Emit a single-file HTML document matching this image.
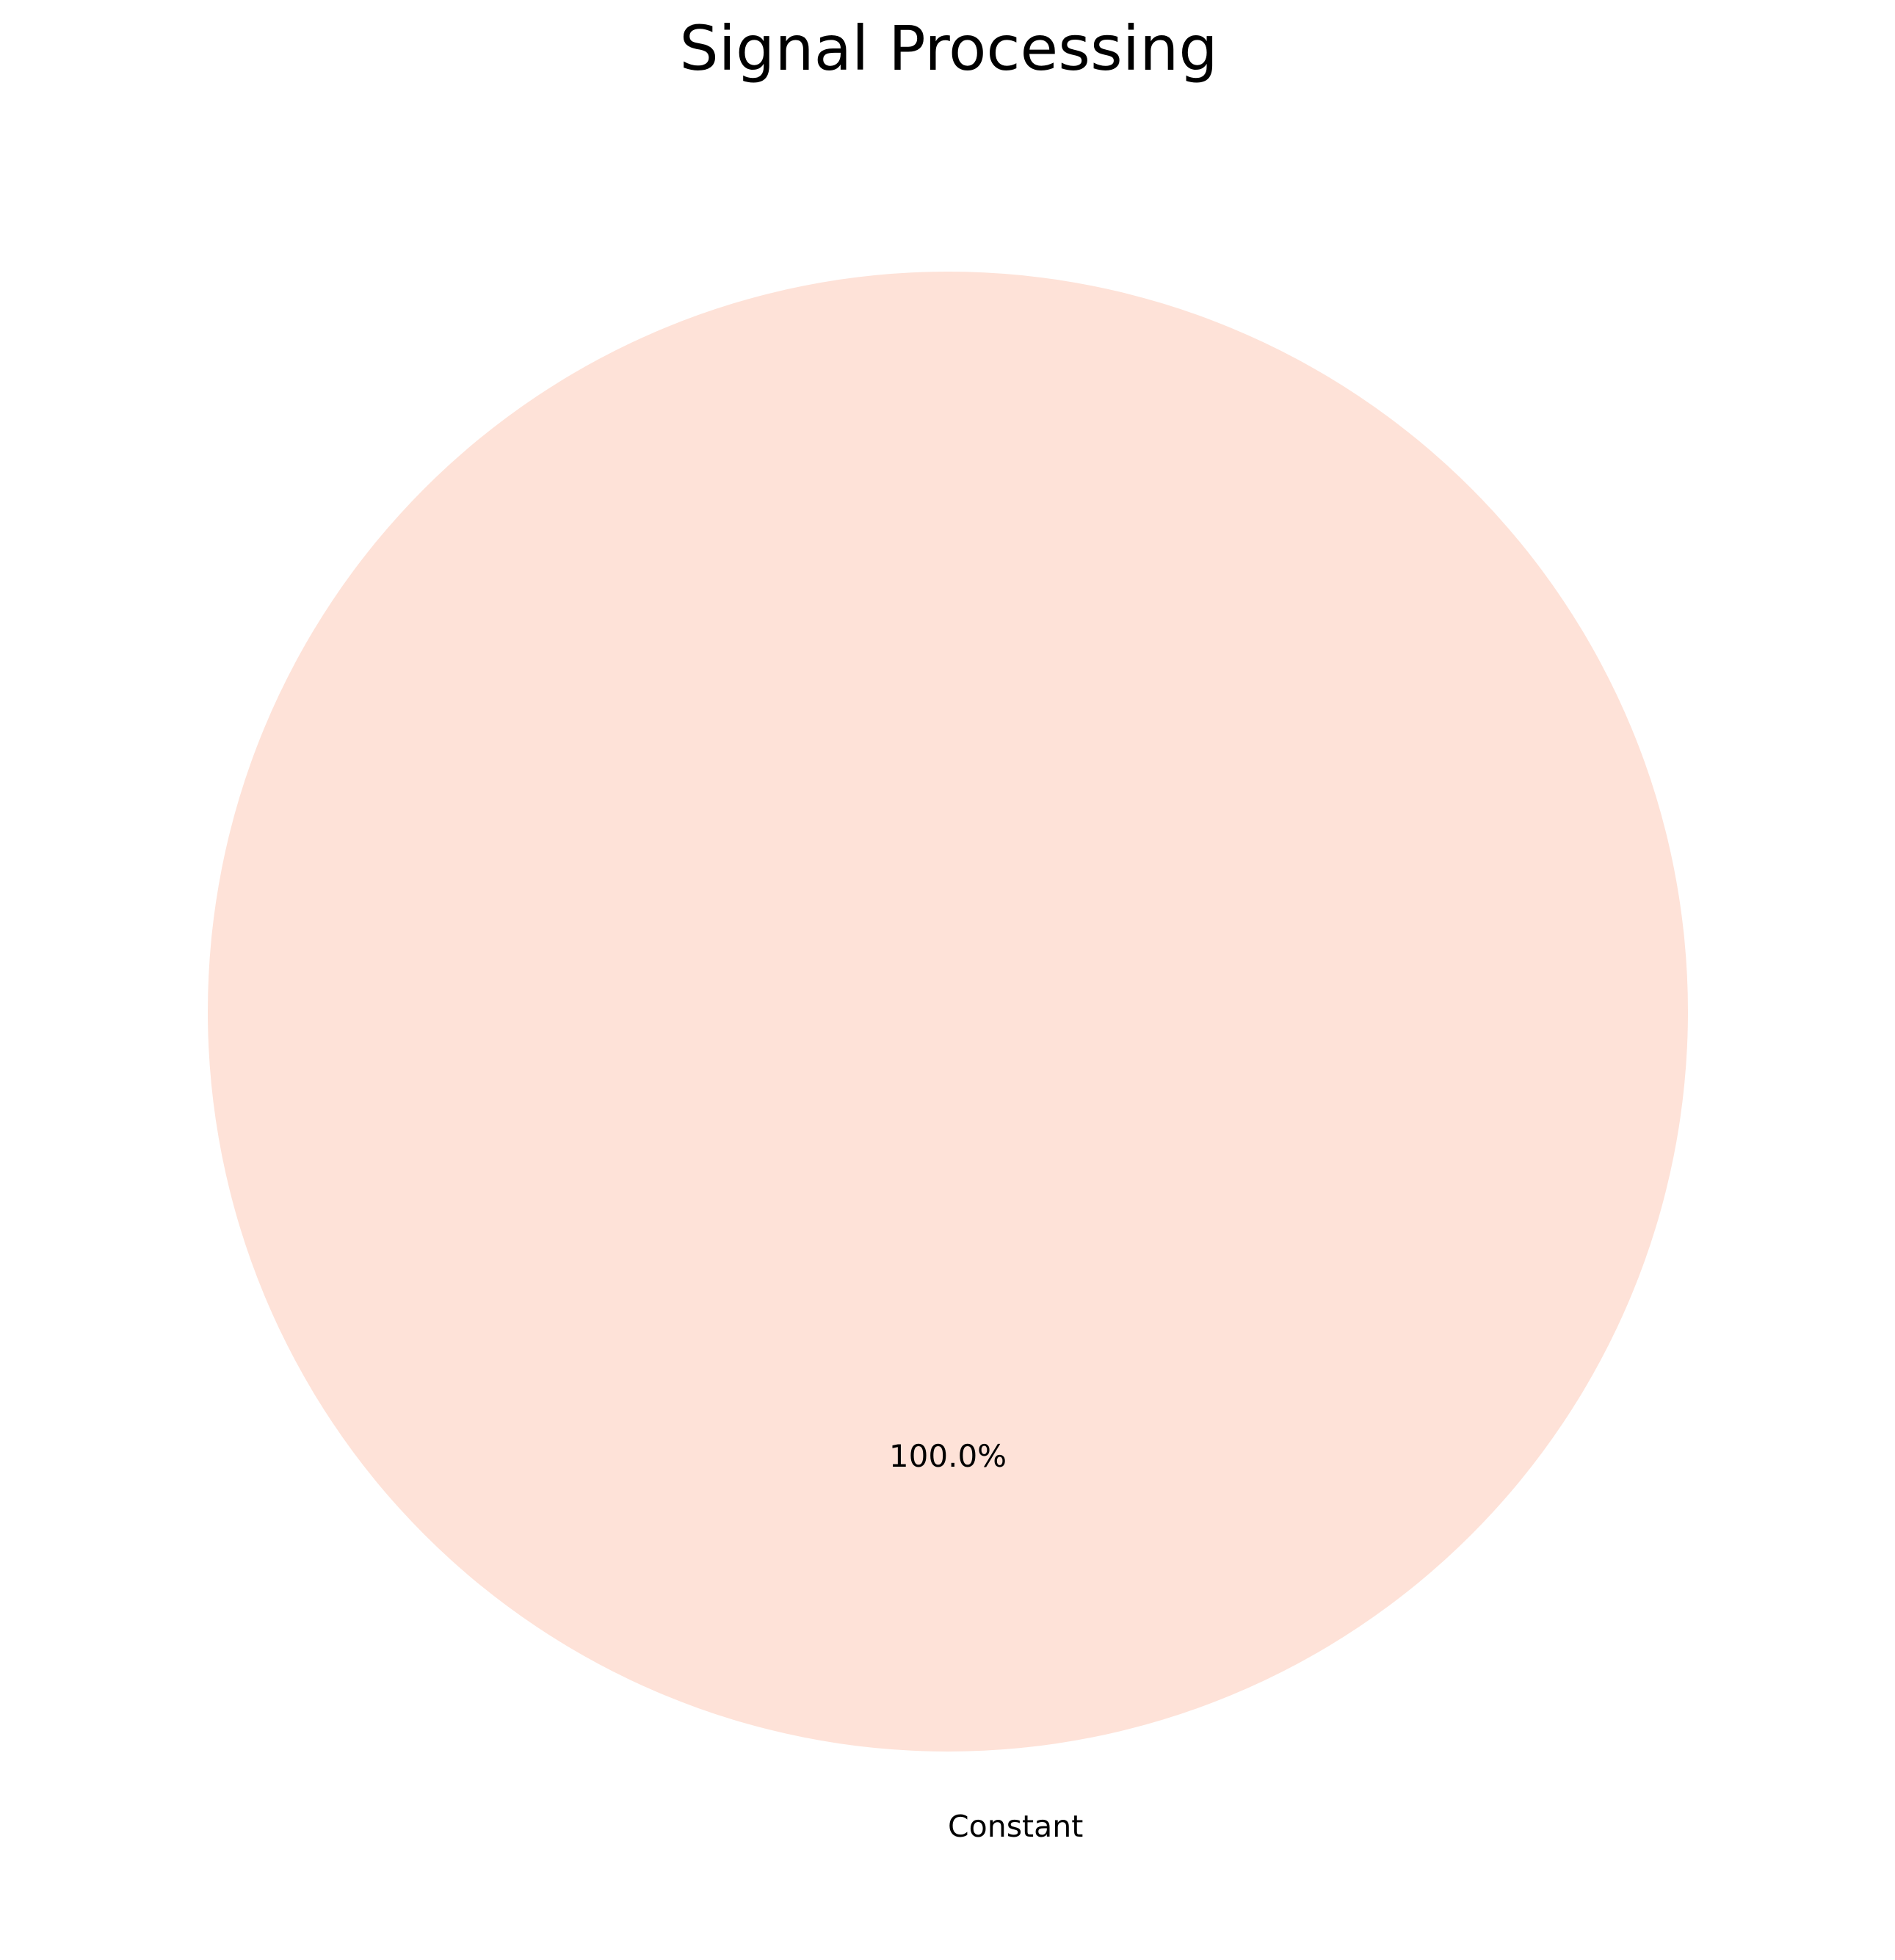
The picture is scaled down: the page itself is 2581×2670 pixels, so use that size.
<!DOCTYPE html>
<html><head><meta charset="utf-8"><style>
html,body{margin:0;padding:0;background:#fff;}
svg{display:block;}
text{font-family:"DejaVu Sans","Liberation Sans",sans-serif;fill:#000;}
</style></head><body>
<svg id="chart" width="2581" height="2670" viewBox="0 0 2581 2670" xmlns="http://www.w3.org/2000/svg">
<rect width="2581" height="2670" fill="#fff"/>
<text x="1292" y="95" font-size="84" text-anchor="middle">Signal Processing</text>
<g id="slices"></g>
</svg>
<script>
const categories = ["Constant"];
const values = [100];
const colors = ["#fee2d8"];
const cx = 1291, cy = 1378, r = 1008;
const svgNS = "http://www.w3.org/2000/svg";
const g = document.getElementById('slices');
const total = values.reduce((a,b)=>a+b,0);
let start = -90;
values.forEach((v,i)=>{
  const sweep = v/total*360;
  const mid = (start + sweep/2) * Math.PI/180;
  let shape;
  if (sweep >= 359.999) {
    shape = document.createElementNS(svgNS,'circle');
    shape.setAttribute('cx',cx); shape.setAttribute('cy',cy); shape.setAttribute('r',r);
  } else {
    const a0 = start*Math.PI/180, a1 = (start+sweep)*Math.PI/180;
    shape = document.createElementNS(svgNS,'path');
    shape.setAttribute('d',`M${cx},${cy} L${cx+r*Math.cos(a0)},${cy+r*Math.sin(a0)} A${r},${r} 0 ${sweep>180?1:0} 1 ${cx+r*Math.cos(a1)},${cy+r*Math.sin(a1)} Z`);
  }
  shape.setAttribute('fill',colors[i%colors.length]);
  
  
  g.appendChild(shape);
  const la = sweep >= 359.999 ? Math.PI/2 : mid + Math.PI;
  const dx = Math.cos(la), dy = Math.sin(la);
  const pct = document.createElementNS(svgNS,'text');
  pct.setAttribute('x', cx + 0.6*r*dx);
  pct.setAttribute('y', cy + 0.6*r*dy + 15);
  pct.setAttribute('font-size','42');
  pct.setAttribute('text-anchor','middle');
  pct.textContent = (v/total*100).toFixed(1) + '%';
  
  
  g.appendChild(pct);
  const lab = document.createElementNS(svgNS,'text');
  lab.setAttribute('x', cx + 1.1*r*dx);
  lab.setAttribute('y', cy + 1.1*r*dy + 15);
  lab.setAttribute('font-size','41');
  lab.setAttribute('text-anchor', dx < -0.001 ? 'end' : 'start');
  lab.textContent = categories[i];
  
  
  g.appendChild(lab);
  start += sweep;
});
</script>
</body></html>
